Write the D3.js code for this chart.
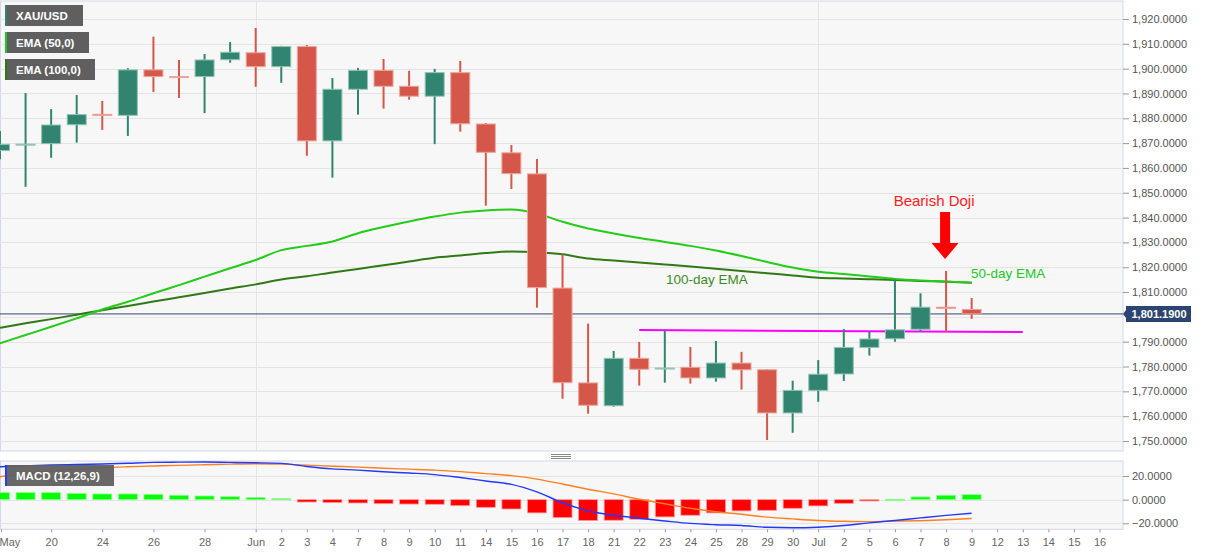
<!DOCTYPE html>
<html><head><meta charset="utf-8">
<script src="https://cdn.jsdelivr.net/npm/d3@7"></script>
<style>body{margin:0;background:#fff;} svg{display:block;font-family:"Liberation Sans",Arial,sans-serif;}</style>
</head><body><svg id="c" width="1207" height="555"></svg>
<script>
// ---------- DATA ----------
const dates = ["2021-05-18","2021-05-19","2021-05-20","2021-05-21","2021-05-24","2021-05-25","2021-05-26","2021-05-27","2021-05-28","2021-05-31",
  "2021-06-01","2021-06-02","2021-06-03","2021-06-04","2021-06-07","2021-06-08","2021-06-09","2021-06-10","2021-06-11","2021-06-14",
  "2021-06-15","2021-06-16","2021-06-17","2021-06-18","2021-06-21","2021-06-22","2021-06-23","2021-06-24","2021-06-25","2021-06-28",
  "2021-06-29","2021-06-30","2021-07-01","2021-07-02","2021-07-05","2021-07-06","2021-07-07","2021-07-08","2021-07-09"];
const futureDates = ["2021-07-12","2021-07-13","2021-07-14","2021-07-15","2021-07-16"];
const open  = [1867.0,1869.3,1869.8,1877.4,1881.6,1881.2,1899.5,1896.8,1896.8,1903.6,1906.4,1900.8,1908.9,1870.9,1891.7,1899.3,1892.9,1888.9,1898.4,1877.7,
  1866.1,1857.6,1811.6,1773.4,1764.2,1783.3,1779.0,1779.7,1775.4,1781.4,1778.7,1761.3,1770.4,1777.0,1787.7,1791.2,1795.0,1803.9,1803.0];
const high  = [1874.9,1890.2,1883.7,1889.4,1887.0,1900.2,1912.9,1903.5,1905.9,1910.7,1916.4,1909.2,1909.5,1896.2,1900.3,1903.9,1899.1,1899.9,1903.1,1878.1,
  1869.2,1863.6,1825.2,1797.3,1786.3,1789.9,1794.6,1787.9,1790.3,1785.9,1779.0,1774.3,1782.6,1795.1,1794.0,1815.1,1809.5,1818.5,1807.6];
const low   = [1863.5,1852.4,1864.1,1870.2,1875.3,1872.9,1890.6,1888.2,1882.1,1902.4,1892.7,1894.3,1864.9,1856.1,1881.5,1883.9,1887.5,1869.6,1874.6,1844.8,
  1851.5,1803.7,1767.0,1761.0,1763.8,1772.3,1773.5,1773.1,1773.9,1770.7,1750.4,1753.3,1765.8,1774.2,1784.4,1790.0,1794.0,1794.0,1799.2];
const close = [1869.5,1869.6,1877.3,1881.5,1881.1,1899.5,1896.8,1896.4,1903.5,1906.6,1900.8,1908.9,1870.9,1891.7,1899.3,1892.9,1888.9,1898.4,1877.8,1866.3,
  1857.7,1811.8,1773.5,1764.4,1783.3,1778.9,1779.4,1775.4,1781.4,1778.7,1761.3,1770.4,1776.9,1787.7,1791.1,1794.8,1803.9,1803.4,1801.2];
const ema50 = [1789.4,1792.7,1796.0,1799.4,1803.0,1806.1,1809.5,1812.8,1816.2,1819.6,1822.9,1826.9,1828.6,1830.4,1833.7,1836.2,1838.4,1840.4,1842.0,1842.9,
  1843.3,1841.7,1838.3,1835.6,1833.6,1831.8,1830.2,1828.6,1826.7,1824.5,1822.1,1819.9,1818.2,1817.3,1816.3,1815.3,1814.7,1814.3,1813.8];
const ema100 = [1795.6,1797.4,1799.1,1800.9,1802.7,1804.4,1806.2,1807.9,1809.6,1811.4,1813.1,1815.1,1816.4,1817.9,1819.3,1820.8,1822.3,1823.8,1824.7,1825.7,
  1826.3,1826.0,1825.2,1823.5,1822.7,1821.9,1821.1,1820.3,1819.4,1818.5,1817.6,1816.7,1815.8,1815.5,1815.2,1814.9,1814.5,1814.2,1813.8];
const macdLine = [27.8,28.6,29.3,29.7,30.1,30.8,31.5,31.7,31.8,31.5,31.2,30.7,28.0,26.0,25.0,23.6,22.5,21.2,18.7,15.8,
  12.9,6.5,-2.6,-9.5,-13.2,-15.7,-18.0,-20.1,-21.2,-21.9,-23.4,-23.8,-23.3,-21.9,-19.6,-17.6,-15.4,-13.3,-11.5];
const signalLine = [19.4,22.0,24.2,25.7,27.0,27.8,28.4,29.0,29.5,30.0,30.4,30.0,29.2,28.3,27.5,26.6,25.8,25.0,23.7,22.0,
  20.3,17.4,13.2,8.8,4.9,0.3,-3.5,-7.3,-10.2,-12.4,-14.8,-16.3,-17.6,-18.3,-18.6,-18.2,-17.8,-17.0,-16.0];
const histogram = [5.9,5.9,5.9,5.3,4.8,4.8,4.5,3.7,3.1,2.5,1.7,0.8,-2.0,-2.5,-2.8,-3.4,-3.7,-3.9,-5.1,-6.5,
  -7.9,-11.2,-15.2,-17.7,-17.4,-16.6,-14.6,-13.2,-11.2,-9.5,-9.0,-7.3,-5.3,-3.1,-1.1,0.3,2.3,3.7,4.2];
const priceTicks = [1750,1760,1770,1780,1790,1800,1810,1820,1830,1840,1850,1860,1870,1880,1890,1900,1910,1920];
const priceLabelTicks = [1750,1760,1770,1780,1790,1810,1820,1830,1840,1850,1860,1870,1880,1890,1900,1910,1920];
const macdTicks = [20,0,-20];
const xTickDates = ["2021-05-18","2021-05-20","2021-05-24","2021-05-26","2021-05-28","2021-06-01","2021-06-02","2021-06-03","2021-06-04","2021-06-07",
  "2021-06-08","2021-06-09","2021-06-10","2021-06-11","2021-06-14","2021-06-15","2021-06-16","2021-06-17","2021-06-18","2021-06-21",
  "2021-06-22","2021-06-23","2021-06-24","2021-06-25","2021-06-28","2021-06-29","2021-06-30","2021-07-01","2021-07-02","2021-07-05",
  "2021-07-06","2021-07-07","2021-07-08","2021-07-09","2021-07-12","2021-07-13","2021-07-14","2021-07-15","2021-07-16"];
const xTickLabels = ["May","20","24","26","28","Jun","2","3","4","7","8","9","10","11","14","15","16","17","18","21",
  "22","23","24","25","28","29","30","Jul","2","5","6","7","8","9","12","13","14","15","16"];
const monthStarts = ["2021-06-01","2021-07-01"];
const lastPrice = 1801.19;
const supportDates = ["2021-06-22","2021-07-13"];
const supportValues = [1794.7,1793.9];
const dojiDate = "2021-07-08";
const dojiArrowTip = 1823.3;

// ---------- LAYOUT ----------
const svg = d3.select("#c");
const plotR = 1123, mainT = 1, mainB = 451, macdT = 461, macdB = 529.3;
const allDates = dates.concat(futureDates);
const x = d3.scalePoint().domain(allDates).range([0, 1099.5]);
const yP = d3.scaleLinear().domain([1750, 1920]).range([441, 19]);
const yM = d3.scaleLinear().domain([-20, 20]).range([523.3, 476]);
const GREEN = "#31846f", GREEN_L = "#93c3b6", RED = "#d4574a", RED_L = "#eca69d";

const defs = svg.append("defs");
defs.append("clipPath").attr("id","cm").append("rect").attr("x",0).attr("y",mainT).attr("width",plotR).attr("height",mainB-mainT);
defs.append("clipPath").attr("id","cd").append("rect").attr("x",0).attr("y",macdT).attr("width",plotR).attr("height",macdB-macdT);

// panel backgrounds
[[mainT,mainB],[macdT,macdB]].forEach(([t,b])=>{
  svg.append("rect").attr("x",0.5).attr("y",t).attr("width",plotR-0.5).attr("height",b-t)
    .attr("fill","#f7f7f7").attr("stroke","#d4d8e6").attr("stroke-width",1);
});

// grids
const gm = svg.append("g").attr("clip-path","url(#cm)");
gm.selectAll("line.h").data(priceTicks).join("line").attr("x1",0).attr("x2",plotR)
  .attr("y1",d=>Math.round(yP(d))+0.5).attr("y2",d=>Math.round(yP(d))+0.5).attr("stroke","#e4e4e4");
gm.selectAll("line.v").data(monthStarts).join("line").attr("y1",mainT).attr("y2",mainB)
  .attr("x1",d=>Math.round(x(d))+0.5).attr("x2",d=>Math.round(x(d))+0.5).attr("stroke","#e4e4e4");
const gd = svg.append("g").attr("clip-path","url(#cd)");
gd.selectAll("line.h").data(macdTicks).join("line").attr("x1",0).attr("x2",plotR)
  .attr("y1",d=>Math.round(yM(d))+0.5).attr("y2",d=>Math.round(yM(d))+0.5).attr("stroke","#e4e4e4");
gd.selectAll("line.v").data(monthStarts).join("line").attr("y1",macdT).attr("y2",macdB)
  .attr("x1",d=>Math.round(x(d))+0.5).attr("x2",d=>Math.round(x(d))+0.5).attr("stroke","#e4e4e4");

// last price line
gm.append("line").attr("x1",0).attr("x2",plotR).attr("y1",yP(lastPrice)).attr("y2",yP(lastPrice))
  .attr("stroke","#34466b").attr("stroke-width",1);

// EMA lines
const lineP = d3.line().x((d,i)=>x(dates[i])).y(d=>yP(d)).curve(d3.curveMonotoneX);
gm.append("path").attr("d",lineP(ema100)).attr("fill","none").attr("stroke","#2f7a14").attr("stroke-width",2);
gm.append("path").attr("d",lineP(ema50)).attr("fill","none").attr("stroke","#22cc18").attr("stroke-width",2);

// support line
gm.append("line").attr("x1",x(supportDates[0])).attr("x2",x(supportDates[1]))
  .attr("y1",yP(supportValues[0])).attr("y2",yP(supportValues[1])).attr("stroke","#ff00ff").attr("stroke-width",2);

// candles
const bw = 19;
const cg = gm.selectAll("g.c").data(dates).join("g");
cg.append("line").attr("x1",(d)=>x(d)).attr("x2",(d)=>x(d))
  .attr("y1",(d,i)=>yP(high[i])).attr("y2",(d,i)=>yP(low[i]))
  .attr("stroke",(d,i)=>close[i]>=open[i]?GREEN:RED).attr("stroke-width",2);
cg.append("rect").attr("x",d=>x(d)-bw/2).attr("width",bw)
  .attr("y",(d,i)=>yP(Math.max(open[i],close[i])))
  .attr("height",(d,i)=>Math.max(1,Math.abs(yP(open[i])-yP(close[i]))))
  .attr("fill",(d,i)=>close[i]>=open[i]?GREEN:RED)
  .attr("stroke",(d,i)=>close[i]>=open[i]?GREEN_L:RED_L).attr("stroke-width",1);

// MACD histogram
gd.selectAll("rect.h").data(histogram).join("rect")
  .attr("x",(d,i)=>x(dates[i])-bw/2).attr("width",bw)
  .attr("y",d=>yM(Math.max(0,d))).attr("height",d=>Math.max(1,Math.abs(yM(d)-yM(0))))
  .attr("fill",d=>d>=0?"#00ff00":"#ff0000")
  .attr("stroke",d=>d>=0?"#8dff8d":"#ff9a9a").attr("stroke-width",0.8);
const lineM = d3.line().x((d,i)=>x(dates[i])).y(d=>yM(d)).curve(d3.curveMonotoneX);
gd.append("path").attr("d",lineM(signalLine)).attr("fill","none").attr("stroke","#ff7f1e").attr("stroke-width",1.4);
gd.append("path").attr("d",lineM(macdLine)).attr("fill","none").attr("stroke","#2238ff").attr("stroke-width",1.4);

// axes
function styleAxis(g){
  g.select(".domain").remove();
  g.selectAll(".tick line").attr("stroke","#999");
  g.selectAll(".tick text").attr("fill","#555").attr("font-size","11px").attr("font-family","'Liberation Sans',Arial,sans-serif");
}
svg.append("g").attr("transform",`translate(${plotR},0)`)
  .call(d3.axisRight(yP).tickValues(priceLabelTicks).tickSize(6).tickPadding(3).tickFormat(d3.format(",.4f"))).call(styleAxis);
svg.append("g").attr("transform",`translate(${plotR},0)`)
  .call(d3.axisRight(yM).tickValues(macdTicks).tickSize(6).tickPadding(3).tickFormat(d3.format(".4f"))).call(styleAxis);
const xa = svg.append("g").attr("transform",`translate(0,${macdB})`)
  .call(d3.axisBottom(x).tickValues(xTickDates).tickSize(3).tickPadding(6).tickFormat((d,i)=>xTickLabels[i])).call(styleAxis);
xa.selectAll(".tick text").attr("fill","#666").filter((d,i)=>i===0).attr("text-anchor","start").attr("x",-1);
xa.selectAll(".tick").filter((d,i)=>i===0).select("line").attr("transform","translate(1,0)");

// price tag
const ty = yP(lastPrice);
const tag = svg.append("g");
tag.append("path").attr("d",`M${plotR},${ty} L${plotR+3},${ty-4} L${plotR+3},${ty-8} L${plotR+68},${ty-8} L${plotR+68},${ty+8} L${plotR+3},${ty+8} L${plotR+3},${ty+4} Z`)
  .attr("fill","#2c4570");
tag.append("text").attr("x",plotR+36).attr("y",ty+4).attr("text-anchor","middle").attr("fill","#fff")
  .attr("font-size","11px").attr("font-weight","bold").text(d3.format(",.4f")(lastPrice));

// legends
const legends = [{t:"XAU/USD",c:"#2f8274",y:5,w:78},{t:"EMA (50,0)",c:"#1ec81e",y:32,w:84},{t:"EMA (100,0)",c:"#2a7a10",y:59,w:90}];
legends.forEach(l=>{
  svg.append("rect").attr("x",5).attr("y",l.y).attr("width",l.w).attr("height",21).attr("fill","#5f5f5f");
  svg.append("rect").attr("x",5).attr("y",l.y).attr("width",2).attr("height",21).attr("fill",l.c);
  svg.append("text").attr("x",16).attr("y",l.y+15).attr("fill","#fff").attr("font-size","11.5px").attr("font-weight","bold").text(l.t);
});
svg.append("rect").attr("x",5).attr("y",465).attr("width",109).attr("height",21).attr("fill","#5f5f5f").attr("opacity",0.95);
svg.append("rect").attr("x",5).attr("y",465).attr("width",2).attr("height",21).attr("fill","#1f3fff");
svg.append("text").attr("x",16).attr("y",480).attr("fill","#fff").attr("font-size","11.5px").attr("font-weight","bold").text("MACD (12,26,9)");

// separator handle
[454.5,456.5,458.5].forEach(y=>svg.append("line").attr("x1",551).attr("x2",571).attr("y1",y).attr("y2",y).attr("stroke","#8a8a8a").attr("stroke-width",1));

// annotations
const ax = x(dojiDate)-1, at = yP(dojiArrowTip);
svg.append("path").attr("d",`M${ax},${at} L${ax-13.5},${at-16} L${ax-5},${at-16} L${ax-5},${at-47} L${ax+5},${at-47} L${ax+5},${at-16} L${ax+13.5},${at-16} Z`)
  .attr("fill","#ff0000");
svg.append("text").attr("x",ax-11).attr("y",206).attr("text-anchor","middle").attr("fill","#ff1a1a").attr("font-size","15px").text("Bearish Doji");
svg.append("text").attr("x",971).attr("y",278).attr("fill","#22c81e").attr("font-size","13.5px").text("50-day EMA");
svg.append("text").attr("x",666).attr("y",284).attr("fill","#3d8a24").attr("font-size","13.5px").text("100-day EMA");
</script></body></html>
